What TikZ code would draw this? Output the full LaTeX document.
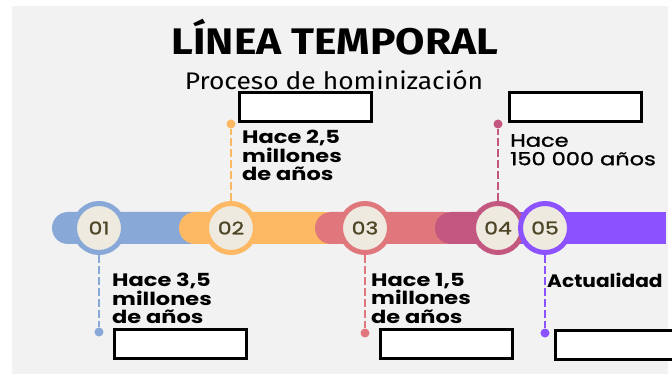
\documentclass[tikz,border=0pt]{standalone}
\usepackage{fontspec}
\setmainfont{Poppins}[FakeStretch=1.25]
\newfontfamily\titlefont{Fira Sans}[FakeStretch=1.15]
\newfontfamily\subtitlefont{Fira Sans}[FakeStretch=1.1]
\newfontfamily\medfont{Poppins}[FakeStretch=1.25, FakeBold=1.2]
\newfontfamily\narrowfont{Poppins}[FakeStretch=1.12]
\usetikzlibrary{positioning}
\definecolor{paper}{HTML}{F2F2F2}
\definecolor{cream}{HTML}{EEEADF}
\definecolor{numtext}{HTML}{4D4526}
\definecolor{cblue}{HTML}{88A8D8}
\definecolor{corange}{HTML}{FDB863}
\definecolor{cred}{HTML}{E0777D}
\definecolor{cpink}{HTML}{C3577F}
\definecolor{cpurple}{HTML}{8C52FF}
\tikzstyle{stage} = [circle, fill=cream, line width=5pt, minimum size=49pt, inner sep=0pt, text=numtext, font=\medfont\fontsize{17.5}{17.5}\selectfont]
\tikzstyle{dot} = [circle, inner sep=0pt, minimum size=9pt]
\tikzstyle{stem} = [line width=2.2pt, dash pattern=on 8pt off 3pt]
\tikzstyle{lbl} = [anchor=north west, inner sep=0pt, align=left, font=\bfseries\fontsize{18}{18.5}\selectfont]
\tikzstyle{blank} = [draw, fill=white, line width=3pt, minimum width=132pt, minimum height=29pt, inner sep=0pt]

\begin{document}
\begin{tikzpicture}[x=1pt,y=-1pt]
\useasboundingbox (0,0) rectangle (672,374);
\fill[paper] (12,6) rectangle (668,374);
\node[font=\titlefont\bfseries\fontsize{37}{37}\selectfont] (title) at (335,37) {LÍNEA TEMPORAL};
\node[font=\subtitlefont\fontsize{24}{24}\selectfont] (sub) at (334,80) {Proceso de hominización};
% bar segments
\fill[cblue, rounded corners=16pt] (52,212) rectangle (215,244);
\fill[corange, rounded corners=16pt] (179,212) rectangle (340,244);
\fill[cred, rounded corners=16pt] (315,212) rectangle (460,244);
\fill[cpink, rounded corners=16pt] (435,212) rectangle (530,244);
\fill[cpurple] (520,212) rectangle (666,244);
% stages
\node[stage, draw=cblue] (c1) at (99,228) {01};
\node[stage, draw=corange] (c2) at (231,228) {02};
\node[stage, draw=cred] (c3) at (365,228) {03};
\node[stage, draw=cpink] (c4) at (498,228) {04};
\node[stage, draw=cpurple] (c5) at (545,228) {05};
\node[dot, fill=cblue] (d1) at (99,332) {};
\node[dot, fill=corange] (d2) at (231,124) {};
\node[dot, fill=cred] (d3) at (365,333) {};
\node[dot, fill=cpink] (d4) at (498,124) {};
\node[dot, fill=cpurple] (d5) at (545,333) {};
\draw[stem, cblue] (c1) -- (d1);
\draw[stem, corange] (c2) -- (d2);
\draw[stem, cred] (c3) -- (d3);
\draw[stem, cpink] (c4) -- (d4);
\draw[stem, cpurple] (c5) -- (d5);
% labels
\node[lbl] (t1) at (112,273) {Hace 3,5\\millones\\de años};
\node[lbl] (t2) at (242,130) {Hace 2,5\\millones\\de años};
\node[lbl] (t3) at (371,273) {Hace 1,5\\millones\\de años};
\node[lbl, font=\medfont\fontsize{18}{18.5}\selectfont] (t4) at (510,134) {Hace\\150 000 años};
\node[lbl, font=\narrowfont\bfseries\fontsize{18}{18.5}\selectfont] (t5) at (547,273) {Actualidad};
% empty boxes
\node[blank] (b1) at (180.5,344) {};
\node[blank] (b2) at (305.5,107.5) {};
\node[blank] (b3) at (446.5,344) {};
\node[blank] (b4) at (575,107.5) {};
\node[blank, minimum width=150pt] (b5) at (630,345) {};
\end{tikzpicture}
\end{document}
